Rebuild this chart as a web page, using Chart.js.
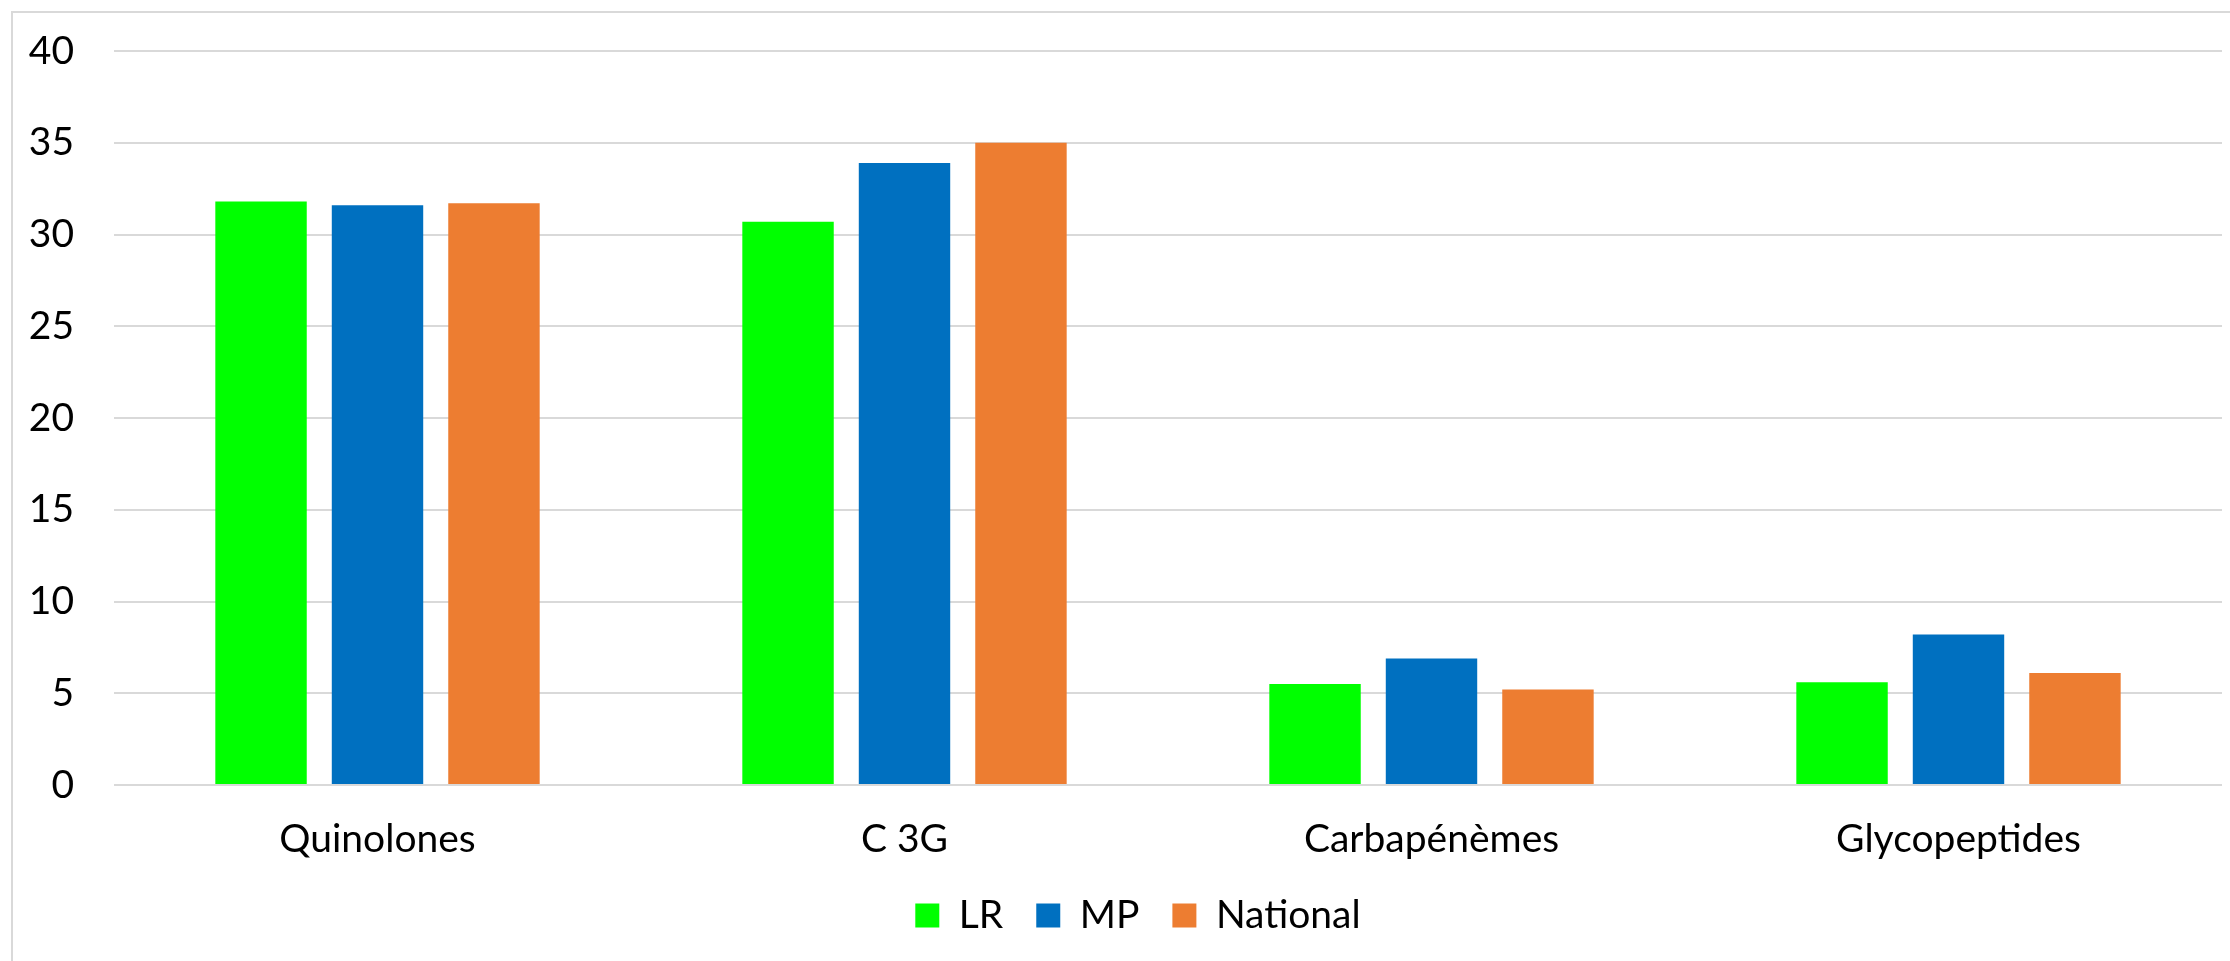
<!DOCTYPE html>
<html>
<head>
<meta charset="utf-8">
<script src="https://cdn.jsdelivr.net/npm/chart.js@4"></script>
<style>
    html, body { margin: 0; padding: 0; background: #fff; }
    #wrap { width: 2230px; height: 961px; }
</style>
</head>
<body>
<div id="wrap"><canvas id="chart" width="2230" height="961"></canvas></div>
<script>
// values
const categories = ['Quinolones', 'C 3G', 'Carbapénèmes', 'Glycopeptides'];
const lrValues = [31.8, 30.7, 5.5, 5.6];
const mpValues = [31.6, 33.9, 6.9, 8.2];
const nationalValues = [31.7, 35.0, 5.2, 6.1];
const yTicks = [0, 5, 10, 15, 20, 25, 30, 35, 40];

const FONT = 'Lato, "Open Sans", sans-serif';
const FONT_SIZE = 39;

// light grey frame on the top and left edges
const framePlugin = {
    id: 'frame',
    beforeDraw(chart) {
        const ctx = chart.ctx;
        ctx.save();
        ctx.strokeStyle = '#d9d9d9';
        ctx.lineWidth = 2;
        ctx.beginPath();
        ctx.moveTo(12, chart.height + 5);
        ctx.lineTo(12, 12);
        ctx.lineTo(chart.width + 5, 12);
        ctx.stroke();
        ctx.restore();
    },
    // the legend sits a little right of the canvas centre in the original
    afterLayout(chart) {
        chart.legend.left += 27;
        chart.legend.right += 27;
    }
};

new Chart(document.getElementById('chart'), {
    type: 'bar',
    data: {
        labels: categories,
        datasets: [
            { label: 'LR', data: lrValues, backgroundColor: '#00ff00' },
            { label: 'MP', data: mpValues, backgroundColor: '#0070c0' },
            { label: 'National', data: nationalValues, backgroundColor: '#ed7d31' }
        ]
    },
    options: {
        responsive: false,
        animation: false,
        events: [],
        layout: { padding: { top: 51, right: 8, left: 0, bottom: 16 } },
        datasets: {
            bar: { categoryPercentage: 0.663, barPercentage: 0.785 }
        },
        plugins: {
            tooltip: { enabled: false },
            legend: {
                position: 'bottom',
                labels: {
                    font: { family: FONT, size: FONT_SIZE },
                    color: '#000',
                    boxWidth: 24,
                    boxHeight: 24,
                    padding: 33
                }
            }
        },
        scales: {
            x: {
                grid: { display: false },
                border: { display: false },
                ticks: {
                    font: { family: FONT, size: FONT_SIZE },
                    color: '#000',
                    padding: 23
                },
                afterFit(scale) { scale.height = 78; }
            },
            y: {
                min: 0,
                max: 40,
                afterBuildTicks(scale) { scale.ticks = yTicks.map(v => ({ value: v })); },
                grid: { color: '#d9d9d9', lineWidth: 2, drawTicks: false },
                border: { display: false },
                ticks: {
                    font: { family: FONT, size: FONT_SIZE },
                    color: '#000',
                    padding: 40
                },
                afterFit(scale) {
                    scale.width = 114;
                    // tick padding is otherwise added above and below the axis too
                    scale.paddingTop = 0;
                    scale.paddingBottom = 0;
                }
            }
        }
    },
    plugins: [framePlugin]
});
</script>
</body>
</html>
